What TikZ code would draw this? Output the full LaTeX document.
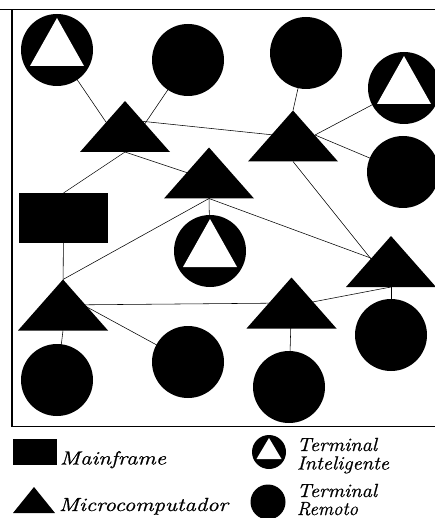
\documentclass[tikz,border=0pt]{standalone}
\usepackage{fontspec}
\usepackage{graphicx}
\usetikzlibrary{backgrounds}
\newfontfamily\legfont[FakeBold=0.8]{Latin Modern Roman}
% legend text: italic, stretched to a given width
\newcommand\legtxt[2]{\resizebox{#1}{\height}{\fontsize{19}{21}\legfont\itshape #2}}
\begin{document}
\begin{tikzpicture}[x=1pt,y=-1pt,
  conn/.style={line width=0.55pt, black},
  frame/.style={line width=1.4pt, black},
  trifill/.style={path picture={\fill[black]
      (path picture bounding box.south west) --
      (path picture bounding box.south east) --
      (path picture bounding box.north) -- cycle;}},
  micro/.style={trifill, minimum width=90pt, minimum height=51pt,
      inner sep=0pt, outer sep=0pt},
  microkey/.style={trifill, minimum width=42pt, minimum height=26pt,
      inner sep=0pt, outer sep=0pt},
  mainframe/.style={rectangle, fill=black, minimum width=89pt,
      minimum height=50pt, inner sep=0pt, outer sep=0pt},
  mainkey/.style={rectangle, fill=black, minimum width=44pt,
      minimum height=26pt, inner sep=0pt, outer sep=0pt},
  remote/.style={circle, fill=black, minimum size=72pt, inner sep=0pt,
      outer sep=0pt},
  remotekey/.style={circle, fill=black, minimum size=35pt, inner sep=0pt,
      outer sep=0pt},
  intel/.style={remote, path picture={\fill[white]
      ([xshift=-27pt,yshift=-16pt]path picture bounding box.center) --
      ([xshift=27pt,yshift=-16pt]path picture bounding box.center) --
      ([yshift=32pt]path picture bounding box.center) -- cycle;}},
  intelkey/.style={circle, fill=black, minimum size=34pt, inner sep=0pt,
      outer sep=0pt, path picture={\fill[white]
      ([xshift=-12.5pt,yshift=-7pt]path picture bounding box.center) --
      ([xshift=12.5pt,yshift=-7pt]path picture bounding box.center) --
      ([yshift=14pt]path picture bounding box.center) -- cycle;}},
  lbl/.style={anchor=base west, inner sep=0pt, outer sep=0pt}
]
\useasboundingbox (0,0) rectangle (435,518);

% border of the network area
\draw[frame] (0,9.5) -- (435,9.5);
\draw[frame] (12,9.5) -- (12,426.5) -- (435,426.5);

% microcomputers
\node[micro] (A) at (125,126.5) {};
\node[micro] (B) at (293,136) {};
\node[micro] (C) at (209,173) {};
\node[micro] (D) at (391,261.5) {};
\node[micro] (E) at (63,305) {};
\node[micro] (F) at (291.5,303) {};

% mainframe
\node[mainframe] (M) at (63.5,218) {};

% intelligent terminals
\node[intel] (TI1) at (57,50) {};
\node[intel] (TI4) at (404,88) {};
\node[intel] (TI6) at (210,251) {};

% remote terminals
\node[remote] (R2) at (188,60) {};
\node[remote] (R3) at (306,53) {};
\node[remote] (R5) at (403,172) {};
\node[remote] (R7) at (57,380) {};
\node[remote] (R8) at (188,362) {};
\node[remote] (R9) at (289,387) {};
\node[remote] (R10) at (391,335) {};

% links
\begin{pgfonlayer}{background}
  \draw[conn] (TI1.center) -- ([shift={(-16,0)}]A.center);
  \draw[conn] (R2.center) -- ([shift={(18,0)}]A.center);
  \draw[conn] ([shift={(0,-7)}]A.center) -- ([shift={(0,1)}]B.center);
  \draw[conn] (A.south) -- ([shift={(0,7)}]C.center);
  \draw[conn] (A.south) -- (M.north);
  \draw[conn] (M.center) -- (E.center);
  \draw[conn] (E.north) -- (C.south);
  \draw[conn] (C.south) -- (TI6.center);
  \draw[conn] (C.south) -- ([shift={(0,4)}]D.center);
  \draw[conn] (B.south) -- ([shift={(-18,0)}]D.center);
  \draw[conn] (R3.center) -- (B.north);
  \draw[conn] ([shift={(22,-1)}]B.center) -- (TI4.center);
  \draw[conn] ([shift={(22,-1)}]B.center) -- (R5.center);
  \draw[conn] (E.south) -- (R7.center);
  \draw[conn] ([shift={(0,-11)}]E.center) -- (R8.center);
  \draw[conn] (E.center) -- (F.center);
  \draw[conn] ([shift={(0,3)}]F.center) -- (D.south);
  \draw[conn] (F.center) -- (R9.center);
  \draw[conn] (D.center) -- (R10.center);
\end{pgfonlayer}

% legend
\node[mainkey] (kM) at (35,452) {};
\node[lbl] (tM) at (60,464.5) {\legtxt{106pt}{Mainframe}};
\node[microkey] (kMi) at (34,500) {};
\node[lbl] (tMi) at (59,511) {\legtxt{169pt}{Microcomputador}};
\node[intelkey] (kTI) at (269,452) {};
\node[lbl] (tTI1) at (297,451) {\legtxt{80pt}{Terminal}};
\node[lbl] (tTI2) at (297,469.5) {\legtxt{92pt}{Inteligente}};
\node[remotekey] (kR) at (268,502) {};
\node[lbl] (tR1) at (297,497) {\legtxt{80pt}{Terminal}};
\node[lbl] (tR2) at (297,515) {\legtxt{61pt}{Remoto}};
\end{tikzpicture}
\end{document}
